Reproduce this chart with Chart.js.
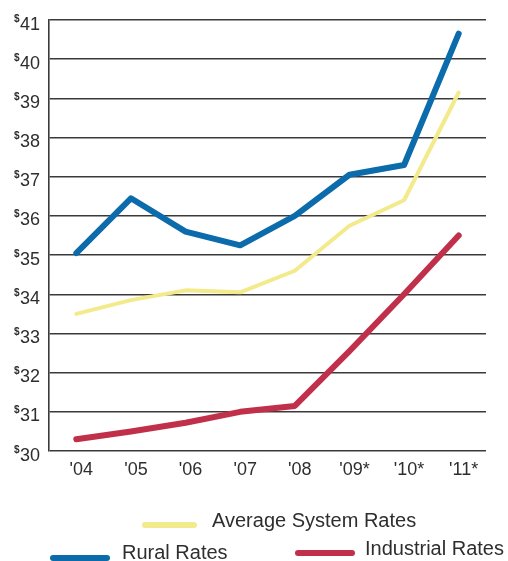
<!DOCTYPE html>
<html>
<head>
<meta charset="utf-8">
<script src="https://cdn.jsdelivr.net/npm/chart.js@4.4.0/dist/chart.umd.min.js"></script>
<style>
  html, body { margin: 0; padding: 0; background: #fff; }
  #wrap { position: relative; width: 508px; height: 561px; }
  #c { position: absolute; left: 0; top: 0; }
  .lg { position: absolute; font-family: "Liberation Sans", Arial, sans-serif; font-size: 20px; color: #2e2e2e; white-space: nowrap; line-height: 1; }
  .sw { position: absolute; height: 6px; border-radius: 3px; }
</style>
</head>
<body>
<div id="wrap">
  <canvas id="c" width="508" height="561"></canvas>
  <div class="sw" style="left:142px; top:522px; width:55px; background:#f3ea8c;"></div>
  <div class="lg" style="left:212px; top:510px;">Average System Rates</div>
  <div class="sw" style="left:50px; top:555px; width:60px; background:#0b6bab;"></div>
  <div class="lg" style="left:122px; top:542px;">Rural Rates</div>
  <div class="sw" style="left:295px; top:550px; width:60px; background:#c0304a;"></div>
  <div class="lg" style="left:365px; top:538px;">Industrial Rates</div>
</div>
<script>
// Rates by year (dollars); asterisked years are projections
const years = ["'04", "'05", "'06", "'07", "'08", "'09*", "'10*", "'11*"];
const ruralRates = [35.05, 36.45, 35.6, 35.25, 36.0, 37.05, 37.3, 40.65];
const averageSystemRates = [33.5, 33.85, 34.1, 34.05, 34.6, 35.75, 36.4, 39.15];
const industrialRates = [30.3, 30.5, 30.72, 31.0, 31.15, 32.55, 34.0, 35.5];
const yTicks = [30, 31, 32, 33, 34, 35, 36, 37, 38, 39, 40, 41];

const labelFont = '"Liberation Sans", Arial, sans-serif';
const textColor = '#2e2e2e';

// Axis labels: superscript dollar sign on the value axis, year labels below
const axisLabels = {
  id: 'axisLabels',
  afterDraw(chart) {
    const ctx = chart.ctx;
    const y = chart.scales.y;
    const x = chart.scales.x;
    ctx.save();
    ctx.fillStyle = textColor;
    ctx.textBaseline = 'alphabetic';
    yTicks.forEach(v => {
      const py = y.getPixelForValue(v);
      const num = String(v);
      ctx.font = '18px ' + labelFont;
      const w = ctx.measureText(num).width;
      const right = 40;
      ctx.textAlign = 'right';
      ctx.fillText(num, right, py + 9.5);
      ctx.font = 'bold 10px ' + labelFont;
      ctx.fillText('$', right - w - 0.5, py + 1.5);
    });
    ctx.font = '18px ' + labelFont;
    ctx.textAlign = 'center';
    years.forEach((lab, i) => {
      const px = x.getPixelForValue(i);
      ctx.fillText(lab, px + 5, 475);
    });
    ctx.restore();
  }
};

new Chart(document.getElementById('c'), {
  type: 'line',
  data: {
    labels: years,
    datasets: [
      {
        label: 'Industrial Rates',
        data: industrialRates,
        borderColor: '#c0304a',
        borderWidth: 6
      },
      {
        label: 'Average System Rates',
        data: averageSystemRates,
        borderColor: '#f3ea8c',
        borderWidth: 4
      },
      {
        label: 'Rural Rates',
        data: ruralRates,
        borderColor: '#0b6bab',
        borderWidth: 6
      }
    ]
  },
  options: {
    responsive: false,
    animation: false,
    devicePixelRatio: 1,
    layout: { padding: { left: 49, right: 22, top: 20, bottom: 102 } },
    elements: {
      point: { radius: 0 },
      line: { tension: 0, borderCapStyle: 'round', borderJoinStyle: 'round' }
    },
    plugins: {
      legend: { display: false },
      tooltip: { enabled: false }
    },
    scales: {
      x: {
        offset: true,
        grid: { display: false },
        border: { display: false },
        ticks: { display: false }
      },
      y: {
        min: 30,
        max: 41,
        afterBuildTicks(scale) {
          scale.ticks = yTicks.map(v => ({ value: v }));
        },
        grid: { color: '#3a3a3a', lineWidth: 1.4, drawTicks: false },
        border: { display: true, color: '#3a3a3a', width: 1.6 },
        ticks: { display: false }
      }
    }
  },
  plugins: [axisLabels]
});
</script>
</body>
</html>
